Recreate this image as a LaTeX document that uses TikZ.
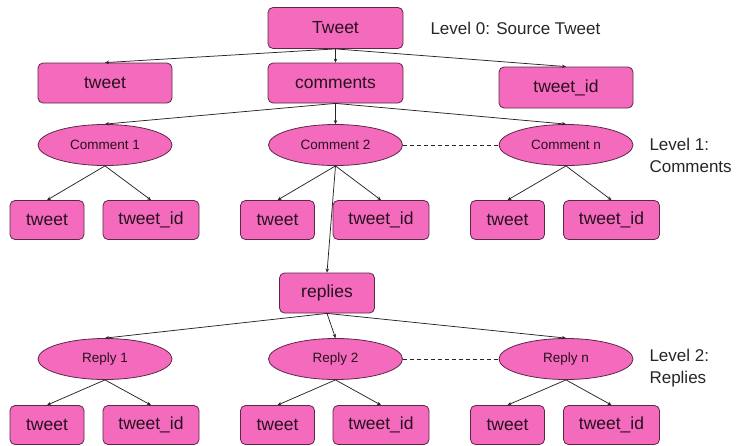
\documentclass[tikz,border=0pt]{standalone}
\usepackage{fontspec}
\setmainfont{Liberation Sans}
\usetikzlibrary{positioning}
\usetikzlibrary{shapes.geometric}
\usetikzlibrary{arrows.meta}
\definecolor{pinkfill}{RGB}{244,107,190}
\definecolor{pinkedge}{RGB}{92,40,70}
\definecolor{inktext}{RGB}{40,16,30}

\begin{document}
\begin{tikzpicture}[x=1pt,y=-1pt,
    box/.style={rectangle,rounded corners=5pt,draw=pinkedge,fill=pinkfill,line width=0.8pt,
      inner sep=0pt,text=inktext,font=\fontsize{17.5}{20}\selectfont},
    oval/.style={ellipse,draw=pinkedge,fill=pinkfill,line width=0.8pt,inner sep=0pt,
      minimum width=134pt,minimum height=41pt,text=inktext,font=\fontsize{13.5}{16}\selectfont},
    link/.style={-{Stealth[length=4pt,width=3.5pt]},line width=0.75pt,draw=black!85},
    lvl/.style={anchor=west,align=left,text=black!85,font=\fontsize{17}{22}\selectfont}]
  \useasboundingbox (0,0) rectangle (742,445);

  % level 0
  \node[box,minimum width=135pt,minimum height=41pt] (T) at (335.5,28) {Tweet};
  \node[box,minimum width=134pt,minimum height=40pt] (Tt) at (105,83) {tweet};
  \node[box,minimum width=135pt,minimum height=40pt] (Tc) at (335.5,83) {comments};
  \node[box,minimum width=134pt,minimum height=41pt] (Ti) at (566,87.5) {tweet\_id};
  \node[lvl] (L0) at (427,28) {Level 0: Source Tweet};

  \draw[link] (T.south) -- (Tt.north);
  \draw[link] (T.south) -- (Tc.north);
  \draw[link] (T.south) -- (Ti.north);

  % level 1
  \node[oval] (C1) at (105,145) {Comment 1};
  \node[oval] (C2) at (335.5,145) {Comment 2};
  \node[oval] (Cn) at (566,145) {Comment n};
  \node[lvl] (L1) at (646,155) {Level 1:\\Comments};

  \draw[link] (Tc.south) -- (C1.north);
  \draw[link] (Tc.south) -- (C2.north);
  \draw[link] (Tc.south) -- (Cn.north);
  \draw[dashed,dash pattern=on 4pt off 3pt,line width=0.7pt,draw=black!85] (C2.east) -- (Cn.west);

  \node[box,minimum width=74pt,minimum height=39pt] (C1t) at (47,220) {tweet};
  \node[box,minimum width=96pt,minimum height=39pt] (C1i) at (151,220) {tweet\_id};
  \node[box,minimum width=74pt,minimum height=39pt] (C2t) at (277.5,220) {tweet};
  \node[box,minimum width=96pt,minimum height=39pt] (C2i) at (381,220) {tweet\_id};
  \node[box,minimum width=74pt,minimum height=39pt] (Cnt) at (507.5,220) {tweet};
  \node[box,minimum width=96pt,minimum height=39pt] (Cni) at (611.5,220) {tweet\_id};

  \draw[link] (C1.south) -- (C1t.north);
  \draw[link] (C1.south) -- (C1i.north);
  \draw[link] (C2.south) -- (C2t.north);
  \draw[link] (C2.south) -- (C2i.north);
  \draw[link] (Cn.south) -- (Cnt.north);
  \draw[link] (Cn.south) -- (Cni.north);

  % level 2
  \node[box,minimum width=95pt,minimum height=40pt] (R) at (327,293) {replies};
  \draw[link] (C2.south) -- (R.north);

  \node[oval] (R1) at (105,359) {Reply 1};
  \node[oval] (R2) at (335.5,359) {Reply 2};
  \node[oval] (Rn) at (566,359) {Reply n};
  \node[lvl] (L2) at (646,368) {Level 2:\\Replies};

  \draw[link] (R.south) -- (R1.north);
  \draw[link] (R.south) -- (R2.north);
  \draw[link] (R.south) -- (Rn.north);
  \draw[dashed,dash pattern=on 4pt off 3pt,line width=0.7pt,draw=black!85] (R2.east) -- (Rn.west);

  \node[box,minimum width=74pt,minimum height=39pt] (R1t) at (47,425) {tweet};
  \node[box,minimum width=96pt,minimum height=39pt] (R1i) at (151,425) {tweet\_id};
  \node[box,minimum width=74pt,minimum height=39pt] (R2t) at (277.5,425) {tweet};
  \node[box,minimum width=96pt,minimum height=39pt] (R2i) at (381,425) {tweet\_id};
  \node[box,minimum width=74pt,minimum height=39pt] (Rnt) at (507.5,425) {tweet};
  \node[box,minimum width=96pt,minimum height=39pt] (Rni) at (611.5,425) {tweet\_id};

  \draw[link] (R1.south) -- (R1t.north);
  \draw[link] (R1.south) -- (R1i.north);
  \draw[link] (R2.south) -- (R2t.north);
  \draw[link] (R2.south) -- (R2i.north);
  \draw[link] (Rn.south) -- (Rnt.north);
  \draw[link] (Rn.south) -- (Rni.north);
\end{tikzpicture}
\end{document}
